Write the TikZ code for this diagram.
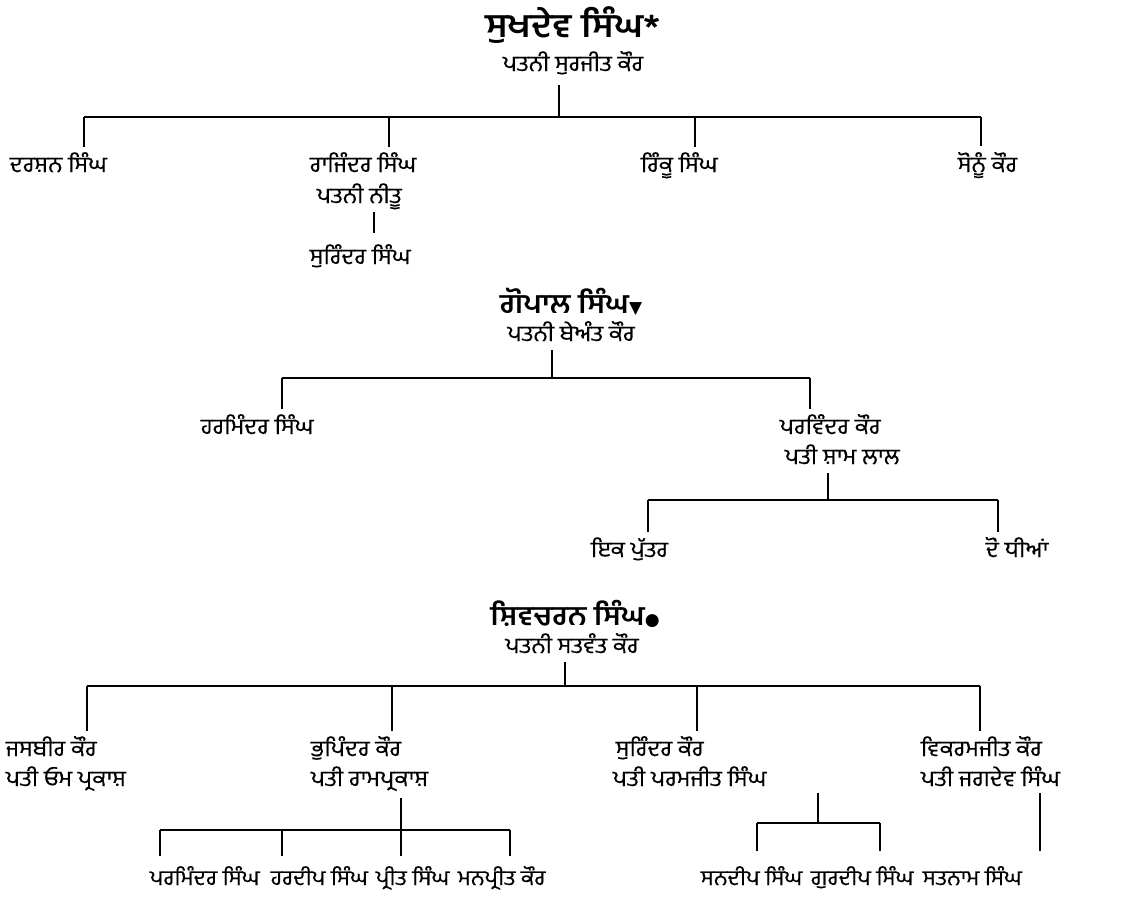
\documentclass[tikz,border=0pt]{standalone}
\usepackage{fontspec}
\newfontfamily\gur[Script=Gurmukhi,FakeStretch=1.08,FakeBold=0.35]{Hind Jalandhar}
\newfontfamily\gurb[Script=Gurmukhi,FakeStretch=1.1]{Hind Jalandhar}
\newfontfamily\sym{DejaVu Sans}
\begin{document}
\begin{tikzpicture}[x=1pt,y=-1pt,line width=1.7pt,
  lbl/.style={font=\gur\fontsize{22}{25}\selectfont,inner sep=0pt,anchor=base west},
  lblg/.style={font=\gur\fontsize{21}{24}\selectfont,inner sep=0pt,anchor=base west},
  lblc/.style={font=\gur\fontsize{22}{25}\selectfont,inner sep=0pt,anchor=base},
  ttlA/.style={font=\gurb\bfseries\fontsize{33}{36}\selectfont,inner sep=0pt,anchor=base},
  ttlB/.style={font=\gurb\bfseries\fontsize{27}{30}\selectfont,inner sep=0pt,anchor=base},
  thinl/.style={line width=1.1pt}]
\useasboundingbox[fill=white] (0,0) rectangle (1144,899);

% ---------- family 1
\node[ttlA] (sukhdev) at (573,38) {ਸੁਖਦੇਵ ਸਿੰਘ*};
\node[lblc] (surjit) at (573,71) {ਪਤਨੀ ਸੁਰਜੀਤ ਕੌਰ};
\node[lbl] (darshan) at (9,172) {ਦਰਸ਼ਨ ਸਿੰਘ};
\node[lbl] (rajinder) at (309,172) {ਰਾਜਿੰਦਰ ਸਿੰਘ};
\node[lbl] (neetu) at (316,203) {ਪਤਨੀ ਨੀਤੂ};
\node[lbl] (surinderS) at (309,264) {ਸੁਰਿੰਦਰ ਸਿੰਘ};
\node[lbl] (rikku) at (640,172) {ਰਿੰਕੂ ਸਿੰਘ};
\node[lbl] (sonu) at (957,172) {ਸੋਨੂੰ ਕੌਰ};

\coordinate (j1) at (559,117);
\coordinate (a1) at (84,117);
\coordinate (a2) at (389,117);
\coordinate (a3) at (695,117);
\coordinate (a4) at (981,117);
\coordinate (r1) at (374,212);
\coordinate (r2) at (374,233);
\draw ([yshift=-10pt]surjit.south -| j1) -- (j1);
\draw (a1) -- (a4);
\draw (a1) -- ([yshift=4pt]a1 |- darshan.north);
\draw (a2) -- ([yshift=4pt]a2 |- rajinder.north);
\draw (a3) -- ([yshift=4pt]a3 |- rikku.north);
\draw (a4) -- ([yshift=5pt]a4 |- sonu.north);
\draw (r1) -- (r2);

% ---------- family 2
\node[ttlB] (gopal) at (571,313) {ਗੋਪਾਲ ਸਿੰਘ{\sym\fontsize{17}{20}\selectfont▼}};
\node[lblc] (beant) at (571,341) {ਪਤਨੀ ਬੇਅੰਤ ਕੌਰ};
\node[lbl] (harminder) at (200,434) {ਹਰਮਿੰਦਰ ਸਿੰਘ};
\node[lbl] (parvinder) at (779,434) {ਪਰਵਿੰਦਰ ਕੌਰ};
\node[lbl] (shamlal) at (784,464) {ਪਤੀ ਸ਼ਾਮ ਲਾਲ};
\node[lbl] (putar) at (590,557) {ਇਕ ਪੁੱਤਰ};
\node[lbl] (dhian) at (985,557) {ਦੋ ਧੀਆਂ};

\coordinate (j2) at (552,378);
\coordinate (b1) at (282,378);
\coordinate (b2) at (810,378);
\coordinate (j3) at (828,500);
\coordinate (c1) at (648,500);
\coordinate (c2) at (998,500);
\draw ([yshift=-8pt]beant.south -| j2) -- (j2);
\draw (b1) -- (b2);
\draw (b1) -- ([yshift=4pt]b1 |- harminder.north);
\draw (b2) -- ([yshift=4pt]b2 |- parvinder.north);
\draw ([yshift=-8pt]shamlal.south -| j3) -- (j3);
\draw (c1) -- (c2);
\draw (c1) -- ([yshift=4pt]c1 |- putar.north);
\draw (c2) -- ([yshift=4pt]c2 |- dhian.north);

% ---------- family 3
\node[ttlB] (shivcharan) at (575,625) {ਸ਼ਿਵਚਰਨ ਸਿੰਘ{\sym\fontsize{17}{20}\selectfont●}};
\node[lblc] (satwant) at (572,653) {ਪਤਨੀ ਸਤਵੰਤ ਕੌਰ};
\node[lbl] (jasbir) at (5,756) {ਜਸਬੀਰ ਕੌਰ};
\node[lbl] (om) at (5,786) {ਪਤੀ ਓਮ ਪ੍ਰਕਾਸ਼};
\node[lbl] (bhupinder) at (310,756) {ਭੁਪਿੰਦਰ ਕੌਰ};
\node[lbl] (ram) at (310,786) {ਪਤੀ ਰਾਮਪ੍ਰਕਾਸ਼};
\node[lbl] (surinderK) at (615,756) {ਸੁਰਿੰਦਰ ਕੌਰ};
\node[lbl] (paramjit) at (612,786) {ਪਤੀ ਪਰਮਜੀਤ ਸਿੰਘ};
\node[lbl] (vikram) at (920,756) {ਵਿਕਰਮਜੀਤ ਕੌਰ};
\node[lbl] (jagdev) at (920,786) {ਪਤੀ ਜਗਦੇਵ ਸਿੰਘ};
\node[lblg] (parminder) at (149,885) {ਪਰਮਿੰਦਰ ਸਿੰਘ};
\node[lblg] (hardeep) at (270,885) {ਹਰਦੀਪ ਸਿੰਘ};
\node[lblg] (preet) at (375,885) {ਪ੍ਰੀਤ ਸਿੰਘ};
\node[lblg] (manpreet) at (457,885) {ਮਨਪ੍ਰੀਤ ਕੌਰ};
\node[lblg] (sandeep) at (700,885) {ਸਨਦੀਪ ਸਿੰਘ};
\node[lblg] (gurdeep) at (810,885) {ਗੁਰਦੀਪ ਸਿੰਘ};
\node[lblg] (satnam) at (922,885) {ਸਤਨਾਮ ਸਿੰਘ};

\coordinate (j4) at (565,686);
\coordinate (d1) at (87,686);
\coordinate (d2) at (392,686);
\coordinate (d3) at (697,686);
\coordinate (d4) at (980,686);
\draw ([yshift=-8pt]satwant.south -| j4) -- (j4);
\draw (d1) -- (d4);
\draw (d1) -- ([yshift=4pt]d1 |- jasbir.north);
\draw (d2) -- ([yshift=4pt]d2 |- bhupinder.north);
\draw (d3) -- ([yshift=4pt]d3 |- surinderK.north);
\draw (d4) -- ([yshift=4pt]d4 |- vikram.north);

\coordinate (e1) at (160,830);
\coordinate (e2) at (282,830);
\coordinate (e3) at (401,830);
\coordinate (e4) at (510,830);
\draw (e1) -- (e4);
\draw[thinl] ([yshift=-6pt]ram.south -| e3) -- ([yshift=9pt]e3 |- preet.north);
\draw[thinl] (e1) -- ([yshift=9pt]e1 |- parminder.north);
\draw[thinl] (e2) -- ([yshift=9pt]e2 |- hardeep.north);
\draw[thinl] (e4) -- ([yshift=9pt]e4 |- manpreet.north);

\coordinate (j5) at (818,823);
\coordinate (f1) at (757,823);
\coordinate (f2) at (880,823);
\coordinate (g1) at (1040,0);
\draw[thinl] ([yshift=-6pt]paramjit.south -| j5) -- (j5);
\draw (f1) -- (f2);
\draw[thinl] (f1) -- ([yshift=14pt]f1 |- sandeep.north);
\draw[thinl] (f2) -- ([yshift=14pt]f2 |- gurdeep.north);
\draw[thinl] ([yshift=-6pt]jagdev.south -| g1) -- ([yshift=14pt]g1 |- satnam.north);
\end{tikzpicture}
\end{document}
